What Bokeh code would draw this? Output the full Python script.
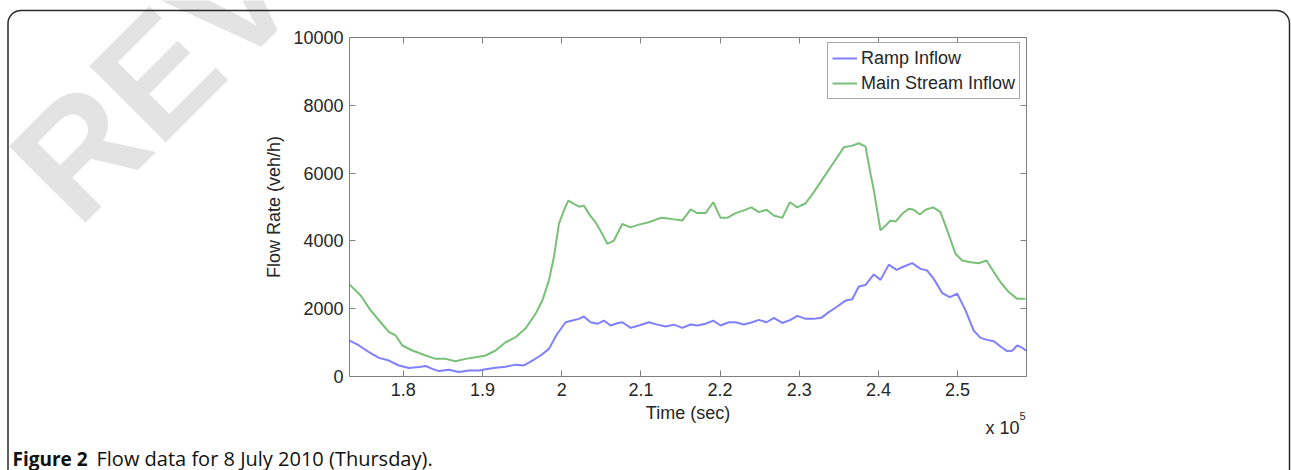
import math
from bokeh.plotting import figure
from bokeh.models import (LinearAxis, FixedTicker, Label, Legend, LegendItem,
                          BoxAnnotation, Range1d)
from bokeh.embed import file_html
from bokeh.resources import INLINE

# ---------------- data ----------------
t_main = [173220, 174610, 175870, 177130, 178180, 179030, 179870, 181140, 182820, 184080,
          185340, 186600, 187870, 189130, 190390, 191650, 192920, 194180, 195440, 196700,
          197550, 198380, 199010, 199650, 200280, 200830, 201540, 202170, 202800, 203430,
          204280, 205130, 205760, 206590, 207650, 208700, 209750, 211010, 212490, 213750,
          215230, 216280, 217120, 218170, 219140, 220060, 220910, 221960, 223000, 223940,
          224900, 225870, 226790, 227850, 228810, 229750, 230800, 231840, 233110, 234370,
          235630, 236690, 237520, 238370, 239000, 239420, 240260, 240900, 241530, 242160,
          243000, 243840, 244470, 245230, 245950, 246920, 247840, 248690, 249730, 250580,
          251630, 252680, 253650, 254570, 255420, 256460, 257520, 258570]
main_inflow = [2710, 2390, 1950, 1600, 1310, 1210, 915, 767, 620, 520,
               520, 450, 520, 570, 620, 767, 1010, 1160, 1420, 1850,
               2240, 2830, 3520, 4500, 4900, 5190, 5090, 5010, 5040, 4800,
               4550, 4200, 3915, 4010, 4500, 4400, 4480, 4550, 4680, 4650,
               4600, 4930, 4820, 4820, 5140, 4680, 4680, 4820, 4900, 4990,
               4850, 4920, 4750, 4680, 5140, 4990, 5110, 5440, 5880, 6320,
               6760, 6810, 6880, 6780, 5980, 5490, 4310, 4450, 4600, 4570,
               4800, 4950, 4920, 4780, 4920, 4990, 4850, 4310, 3620, 3420,
               3370, 3340, 3420, 3080, 2780, 2490, 2290, 2290]

t_ramp = [173220, 174390, 175660, 176920, 178180, 179440, 180710, 181970, 182820, 183660,
          184500, 185760, 187020, 188280, 189550, 190390, 191650, 192920, 194180, 195230,
          196290, 197340, 198380, 199440, 200490, 201340, 202170, 202800, 203650, 204490,
          205330, 206170, 207020, 207650, 208700, 209750, 211010, 212070, 213120, 214170,
          215230, 216280, 217120, 218170, 219140, 220060, 221110, 221960, 223000, 224070,
          224900, 225870, 226790, 227850, 228900, 229750, 230800, 231840, 232780, 233740,
          234800, 235850, 236690, 237520, 238370, 239420, 240260, 241310, 242290, 243210,
          244270, 245310, 246160, 246990, 248050, 249010, 249950, 251000, 252040, 252890,
          253740, 254570, 255420, 256260, 256890, 257520, 258160, 258660]
ramp_inflow = [1060, 915, 720, 550, 470, 325, 250, 280, 310, 225,
               160, 200, 130, 180, 180, 215, 260, 290, 350, 325,
               470, 620, 815, 1260, 1600, 1650, 1700, 1770, 1600, 1555,
               1650, 1505, 1570, 1600, 1435, 1505, 1600, 1530, 1475, 1530,
               1435, 1535, 1505, 1555, 1650, 1505, 1600, 1600, 1535, 1600,
               1670, 1600, 1730, 1580, 1670, 1790, 1700, 1700, 1730, 1900,
               2065, 2240, 2280, 2655, 2700, 3010, 2850, 3300, 3145, 3245,
               3345, 3175, 3125, 2880, 2460, 2340, 2440, 1950, 1355, 1140,
               1080, 1040, 885, 750, 760, 915, 850, 765]

x_ticks = [180000, 190000, 200000, 210000, 220000, 230000, 240000, 250000]
x_tick_labels = ["1.8", "1.9", "2", "2.1", "2.2", "2.3", "2.4", "2.5"]
y_ticks = [0, 2000, 4000, 6000, 8000, 10000]
x_limits = (173200, 258700)
y_limits = (0, 10000)

series_names = ["Ramp Inflow", "Main Stream Inflow"]
caption_bold = "Figure 2"
caption_rest = "Flow data for 8 July 2010 (Thursday)."
x_label = "Time (sec)"
y_label = "Flow Rate (veh/h)"

# ---------------- layout / style ----------------
FONT = "Liberation Sans"
TXT = "#262626"
AXC = "#7f7f7f"
BLUE = "#8080ff"
GREEN = "#78c078"

W, H = 1291, 470
FL, FR, FT, FB = 349, 1026, 37, 376   # pixel box of the axes area

XMIN, XMAX = x_limits
YMIN, YMAX = y_limits
sx = (XMAX - XMIN) / (FR - FL)
sy = (YMAX - YMIN) / (FB - FT)
# the frame spans the whole canvas; the axes sit at fixed data locations
x_rng = Range1d(XMIN - FL * sx, XMAX + (W - FR) * sx)
y_rng = Range1d(YMIN - (H - FB) * sy, YMAX + FT * sy)

p = figure(width=W, height=H, output_backend="svg", toolbar_location=None,
           x_range=x_rng, y_range=y_rng,
           x_axis_location=None, y_axis_location=None,
           min_border=0, min_border_left=0, min_border_right=0,
           min_border_top=0, min_border_bottom=0,
           background_fill_color="white", border_fill_color="white")
p.grid.visible = False
p.outline_line_color = None

def sxp(X):
    return X            # screen x (from left)

def syp(Y):
    return H - Y        # screen y (from bottom)

# watermark (behind everything)
p.add_layout(Label(x=sxp(39), y=syp(191), x_units="screen", y_units="screen",
                   text="REVIEW", angle=math.pi / 4, text_font=FONT,
                   text_font_style="bold", text_font_size="157px",
                   text_color="#e3e3e3", text_baseline="alphabetic",
                   level="underlay"))

r_ramp = p.line(t_ramp, ramp_inflow, line_color=BLUE, line_width=2)
r_main = p.line(t_main, main_inflow, line_color=GREEN, line_width=2)

def style_axis(ax, show_labels):
    ax.axis_line_color = AXC
    ax.major_tick_line_color = AXC
    ax.major_tick_in = 6
    ax.major_tick_out = 0
    ax.minor_tick_line_color = None
    ax.major_label_text_font = FONT
    ax.major_label_text_font_size = "18px" if show_labels else "0px"
    ax.major_label_text_color = TXT
    ax.major_label_standoff = 6
    ax.axis_label_text_font = FONT
    ax.axis_label_text_font_size = "18px"
    ax.axis_label_text_font_style = "normal"
    ax.axis_label_text_color = TXT

overrides = {t: l for t, l in zip(x_ticks, x_tick_labels)}

bottom = LinearAxis(ticker=FixedTicker(ticks=x_ticks), fixed_location=YMIN,
                    bounds=(XMIN, XMAX), axis_label=x_label,
                    major_label_overrides=overrides)
style_axis(bottom, True)
bottom.axis_label_standoff = 4
p.add_layout(bottom, "below")

left = LinearAxis(ticker=FixedTicker(ticks=y_ticks), fixed_location=XMIN,
                  bounds=(YMIN, YMAX), axis_label=y_label)
style_axis(left, True)
left.axis_label_standoff = 6
p.add_layout(left, "left")

top = LinearAxis(ticker=FixedTicker(ticks=x_ticks), fixed_location=YMAX,
                 bounds=(XMIN, XMAX))
style_axis(top, False)
top.major_label_text_alpha = 0
p.add_layout(top, "above")

right = LinearAxis(ticker=FixedTicker(ticks=y_ticks), fixed_location=XMAX,
                   bounds=(YMIN, YMAX))
style_axis(right, False)
right.major_label_text_alpha = 0
p.add_layout(right, "right")

legend = Legend(items=[LegendItem(label=series_names[0], renderers=[r_ramp]),
                       LegendItem(label=series_names[1], renderers=[r_main])],
                location=(827, 371), orientation="vertical")
legend.border_line_color = "#4d4d4d"
legend.border_line_width = 1
legend.background_fill_color = "white"
legend.background_fill_alpha = 1
legend.label_text_font = FONT
legend.label_text_font_size = "18px"
legend.label_text_color = TXT
legend.glyph_width = 25
legend.glyph_height = 22
legend.label_height = 22
legend.spacing = 3
legend.padding = 4
legend.margin = 0
legend.label_standoff = 4
p.add_layout(legend)

# x 10^5 multiplier
p.add_layout(Label(x=sxp(985), y=syp(427), x_units="screen", y_units="screen",
                   text="x 10", text_font=FONT, text_font_size="18px",
                   text_color=TXT, text_baseline="alphabetic"))
p.add_layout(Label(x=sxp(1019), y=syp(415), x_units="screen", y_units="screen",
                   text="5", text_font=FONT, text_font_size="11px",
                   text_color=TXT, text_baseline="alphabetic"))

# caption
p.add_layout(Label(x=sxp(12), y=syp(458), x_units="screen", y_units="screen",
                   text=caption_bold, text_font="Open Sans", text_font_style="bold",
                   text_font_size="19px", text_color="#111111",
                   text_baseline="alphabetic"))
p.add_layout(Label(x=sxp(96), y=syp(458), x_units="screen", y_units="screen",
                   text=caption_rest, text_font="Open Sans",
                   text_font_size="20px", text_color="#111111",
                   text_baseline="alphabetic"))

# rounded panel border
p.add_layout(BoxAnnotation(left=sxp(7.5), right=sxp(1289), top=syp(10), bottom=syp(520),
                           left_units="screen", right_units="screen",
                           top_units="screen", bottom_units="screen",
                           fill_color=None, line_color="#2a2a2a", line_alpha=1,
                           line_width=1.5, border_radius=13))

open("out.html", "w").write(file_html(p, INLINE))
